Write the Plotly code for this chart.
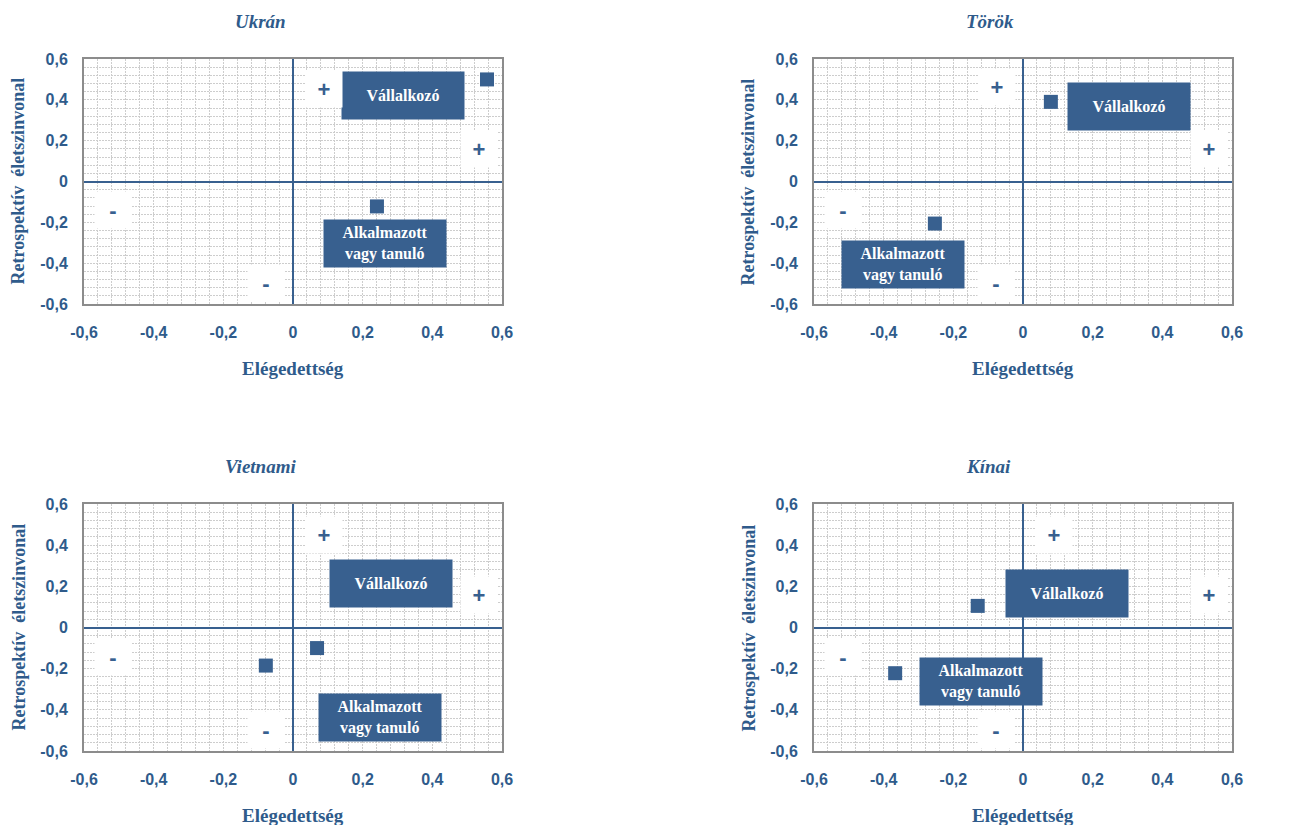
import plotly.graph_objects as go

BLUE = "#38608F"
TEXT = "#2F5B8B"
GRID = "#CDCDCD"
BORDER = "#8C8C8C"
SERIF = "Liberation Serif"
SANS = "Liberation Sans"

# page offset of the plot div (body margin) and figure size
OX, OY = 8, 8
W, H = 1292 - OX, 825 - OY

countries = ["Ukrán", "Török", "Vietnami", "Kínai"]

# square markers
vall_x = [0.557, 0.080, 0.069, -0.130]
vall_y = [0.500, 0.390, -0.100, 0.105]
alk_x = [0.241, -0.253, -0.078, -0.367]
alk_y = [-0.122, -0.206, -0.185, -0.222]

# label boxes (centre)
vall_box_x = [0.317, 0.305, 0.281, 0.127]
vall_box_y = [0.422, 0.365, 0.216, 0.163]
alk_box_x = [0.265, -0.345, 0.250, -0.121]
alk_box_y = [-0.306, -0.407, -0.436, -0.262]

# quadrant signs
sign_text = ["+", "+", "-", "-"]
sign_x = [
    [0.090, 0.534, -0.516, -0.078],
    [-0.075, 0.534, -0.516, -0.078],
    [0.090, 0.534, -0.516, -0.078],
    [0.090, 0.534, -0.516, -0.078],
]
sign_y = [
    [0.454, 0.157, -0.140, -0.496],
    [0.463, 0.157, -0.140, -0.496],
    [0.450, 0.157, -0.144, -0.496],
    [0.450, 0.157, -0.144, -0.496],
]

tick_vals = [-0.6, -0.4, -0.2, 0, 0.2, 0.4, 0.6]
tick_text = ["-0,6", "-0,4", "-0,2", "0", "0,2", "0,4", "0,6"]

# plot areas in page pixels: (left, right, top, bottom)
areas = [(84, 502, 59, 304), (814, 1232, 59, 304),
         (84, 502, 504, 751), (814, 1232, 504, 751)]
title_pos = [(260, 21), (990, 21), (260, 467), (988, 467)]


def px(x):
    return (x - OX) / W


def py(y):
    return 1 - (y - OY) / H


fig = go.Figure()
annotations = []


def axis_style(domain, standoff):
    return dict(
        domain=domain,
        range=[-0.6, 0.6],
        automargin=False,
        tickmode="array",
        tickvals=tick_vals,
        ticktext=tick_text,
        tickfont=dict(family=SANS, size=16, color=TEXT, weight="bold"),
        ticklabelstandoff=standoff,
        showgrid=True,
        gridcolor=GRID,
        griddash="2px,1px",
        gridwidth=1,
        minor=dict(dtick=0.04, tick0=0, showgrid=True, gridcolor=GRID,
                   griddash="2px,1px", gridwidth=1),
        zeroline=True,
        zerolinecolor=BLUE,
        zerolinewidth=2,
        showline=True,
        mirror=True,
        linecolor=BORDER,
        linewidth=2,
        fixedrange=True,
    )


for i, name in enumerate(countries):
    n = "" if i == 0 else str(i + 1)
    xa, ya = "x" + n, "y" + n
    left, right, top, bottom = areas[i]

    fig.add_trace(go.Scatter(
        x=[vall_x[i], alk_x[i]], y=[vall_y[i], alk_y[i]],
        mode="markers", xaxis=xa, yaxis=ya,
        marker=dict(symbol="square", size=14, color=BLUE),
        showlegend=False, hoverinfo="skip",
    ))

    fig.layout["xaxis" + n] = axis_style([px(left), px(right)], 13)
    fig.layout["yaxis" + n] = axis_style([py(bottom), py(top)], 11)
    fig.layout["xaxis" + n].anchor = ya
    fig.layout["yaxis" + n].anchor = xa

    box = dict(xref=xa, yref=ya, showarrow=False, bgcolor=BLUE,
               width=120, height=45, align="center",
               font=dict(family=SERIF, size=16, color="white", weight="bold"))
    annotations.append(dict(box, x=vall_box_x[i], y=vall_box_y[i], text="Vállalkozó"))
    annotations.append(dict(box, x=alk_box_x[i], y=alk_box_y[i],
                            text="Alkalmazott<br>vagy tanuló"))

    for t, sx, sy in zip(sign_text, sign_x[i], sign_y[i]):
        annotations.append(dict(
            xref=xa, yref=ya, x=sx, y=sy, text=t, showarrow=False,
            bgcolor="white", width=34, height=34,
            font=dict(family=SANS, size=22, color=BLUE, weight="bold"),
        ))

    tx, ty = title_pos[i]
    annotations.append(dict(
        xref="paper", yref="paper", x=px(tx), y=py(ty), text=name,
        showarrow=False, xanchor="center", yanchor="middle",
        font=dict(family=SERIF, size=19, color=TEXT, weight="bold", style="italic"),
    ))
    annotations.append(dict(
        xref="paper", yref="paper", x=px((left + right) / 2), y=py(bottom + 64),
        text="Elégedettség", showarrow=False, xanchor="center", yanchor="middle",
        font=dict(family=SERIF, size=19, color=TEXT, weight="bold"),
    ))
    annotations.append(dict(
        xref="paper", yref="paper", x=px(left - 66), y=py((top + bottom) / 2),
        text="Retrospektív  életszinvonal", showarrow=False, textangle=-90,
        xanchor="center", yanchor="middle", borderpad=0,
        font=dict(family=SERIF, size=18, color=TEXT, weight="bold"),
    ))

fig.update_layout(
    width=W, height=H,
    margin=dict(l=0, r=0, t=0, b=0),
    paper_bgcolor="white",
    plot_bgcolor="white",
    annotations=annotations,
    showlegend=False,
)

fig.write_html("out.html")
